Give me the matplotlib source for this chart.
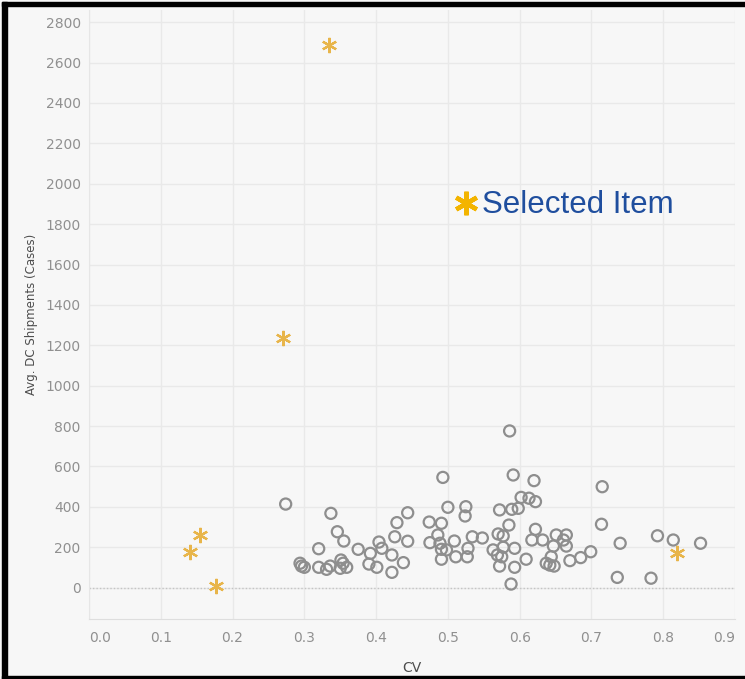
import numpy as np
import matplotlib
matplotlib.use("Agg")
import matplotlib.pyplot as plt
from matplotlib.lines import Line2D
from matplotlib.patches import Rectangle

# regular items (open circles): CV, avg DC shipments (cases)
cv = [0.274, 0.337, 0.346, 0.355, 0.320, 0.294, 0.296, 0.300, 0.320, 0.331,
      0.336, 0.351, 0.354, 0.350, 0.359, 0.375, 0.392, 0.404, 0.408, 0.390,
      0.401, 0.422, 0.422, 0.438, 0.426, 0.429, 0.444, 0.444, 0.474, 0.475,
      0.493, 0.500, 0.525, 0.524, 0.491, 0.486, 0.489, 0.491, 0.498, 0.491,
      0.509, 0.511, 0.527, 0.528, 0.534, 0.548, 0.572, 0.589, 0.598, 0.591,
      0.620, 0.602, 0.613, 0.622, 0.585, 0.570, 0.577, 0.563, 0.569, 0.577,
      0.575, 0.572, 0.593, 0.593, 0.609, 0.588, 0.622, 0.617, 0.632, 0.586,
      0.715, 0.651, 0.665, 0.661, 0.647, 0.665, 0.714, 0.740, 0.792, 0.814,
      0.852, 0.699, 0.685, 0.670, 0.644, 0.642, 0.648, 0.637, 0.736, 0.783]
shipments = [414, 368, 277, 231, 193, 121, 107, 101, 101, 91,
             107, 137, 121, 96, 101, 190, 170, 226, 195, 117,
             101, 162, 76, 124, 252, 322, 371, 230, 325, 223,
             546, 398, 401, 355, 319, 261, 220, 190, 187, 141,
             231, 153, 153, 195, 252, 246, 385, 388, 393, 558,
             530, 447, 443, 426, 310, 266, 256, 187, 162, 200,
             153, 107, 195, 101, 141, 18, 289, 236, 236, 776,
             500, 261, 261, 236, 206, 206, 314, 220, 257, 236,
             220, 178, 149, 134, 153, 112, 107, 121, 51, 47]

# selected items (stars)
sel_cv = [0.334, 0.270, 0.155, 0.141, 0.177, 0.819]
sel_shipments = [2686, 1236, 260, 176, 8, 172]

xticks = [0.0, 0.1, 0.2, 0.3, 0.4, 0.5, 0.6, 0.7, 0.8, 0.9]
yticks = list(range(0, 2801, 200))

bg = "#f7f7f7"
tick_color = "#909090"
label_font = ["Liberation Sans Narrow", "DejaVu Sans Condensed", "DejaVu Sans"]

fig = plt.figure(figsize=(7.45, 6.79), dpi=100, facecolor=bg)
ax = fig.add_axes([89 / 745, 1 - 619 / 679, (735 - 89) / 745, (619 - 10) / 679])
ax.set_facecolor(bg)

ax.set_xlim(0, 0.9)
ax.set_ylim(-155, 2860)

ax.set_xticks(xticks)
ax.set_xticklabels(["%.1f" % t for t in xticks])
ax.set_yticks(yticks)
ax.set_yticklabels([str(t) for t in yticks])
ax.tick_params(length=0, labelsize=10, labelcolor=tick_color)
ax.tick_params(axis="x", pad=9)
ax.tick_params(axis="y", pad=6)
xl = ax.get_xticklabels()
xl[0].set_horizontalalignment("left")
xl[-1].set_horizontalalignment("right")

ax.grid(True, color="#e9e9e9", linewidth=1)
ax.set_axisbelow(True)
for side in ["top", "right"]:
    ax.spines[side].set_visible(False)
ax.spines["left"].set_color("#e6e6e6")
ax.spines["bottom"].set_color("#dedede")
ax.axhline(0, color="#c4c4c4", linewidth=1, linestyle=(0, (1, 1.5)), zorder=1)

ax.scatter(cv, shipments, s=64, facecolors="none", edgecolors="#8e8e8e",
           linewidths=1.6, zorder=3)
ax.plot(sel_cv, sel_shipments, linestyle="none", marker=(6, 2, 0),
        markersize=11, markeredgewidth=1.6, color="#e8b54a", zorder=4)

ax.set_xlabel("CV", family=label_font, fontsize=10, color="#4d4d4d",
              labelpad=11)
ax.set_ylabel("Avg. DC Shipments (Cases)", family=label_font, fontsize=8.5,
              color="#4d4d4d", labelpad=5)

# legend-like annotation
fig.add_artist(Line2D([466 / 745], [1 - 203 / 679], marker=(6, 2, 0),
                      markersize=17, markeredgewidth=3.2, color="#f3b400",
                      transform=fig.transFigure))
fig.text(482 / 745, 1 - 205 / 679, "Selected Item", fontsize=22.5,
         family=["Liberation Sans", "DejaVu Sans"], color="#1f4e9e",
         va="center", ha="left")

# black frame (left, top, bottom)
k = dict(transform=fig.transFigure, color="black", zorder=10)
fig.add_artist(Rectangle((2 / 745, 0), 5 / 745, 1 - 2 / 679, **k))
fig.add_artist(Rectangle((2 / 745, 1 - 6 / 679), 1, 4 / 679, **k))
fig.add_artist(Rectangle((2 / 745, 0), 1, 3 / 679, **k))

fig.savefig("out.png", dpi=100, facecolor=bg)
